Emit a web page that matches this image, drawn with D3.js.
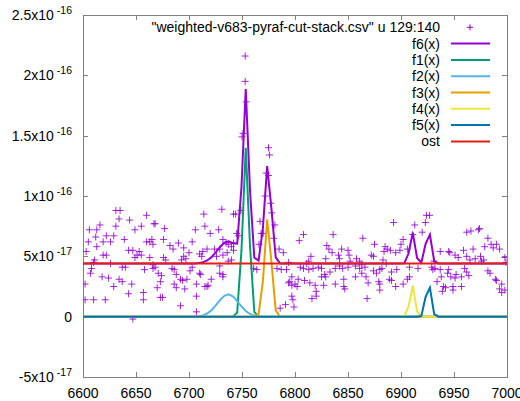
<!DOCTYPE html>
<html>
<head>
<meta charset="utf-8">
<script src="https://cdn.jsdelivr.net/npm/d3@7"></script>
<style>
  body { margin: 0; background: #fff; }
  text { font-family: "Liberation Sans", Arial, sans-serif; fill: #000; }
</style>
</head>
<body>
<div id="chart"></div>
<script>
// axis ticks
const xTicks = [6600, 6650, 6700, 6750, 6800, 6850, 6900, 6950, 7000];
const yTicks = [-5e-17, 0, 5e-17, 1e-16, 1.5e-16, 2e-16, 2.5e-16];

// fitted components (flux in units of 1e-17)
const ostLevel = 4.4;
const fitNames = ['f1(x)', 'f2(x)', 'f3(x)', 'f4(x)', 'f5(x)'];
const fitCenters = [6753.6, 6737.0, 6774.3, 6910.7, 6925.8];
const fitAmps = [14.0, 1.85, 8.2, 2.6, 2.9];
const fitSigmas = [3.0, 10.0, 3.2, 2.4, 2.4];

// measured points: [wavelength, flux / 1e-17]
const scatter = [
  [6631, 8.8], [6635, 8.8], [6660, 8.4], [6634, 8.1], [6644, 8.0], [6616, 7.6], [6667, 7.7], [6606, 7.2],
  [6613, 7.2], [6631, 7.5], [6655, 7.5], [6649, 7.2], [6622, 6.7], [6629, 6.7], [6612, 6.6], [6639, 6.4],
  [6605, 6.2], [6619, 6.2], [6626, 6.2], [6660, 6.2], [6663, 6.2], [6666, 6.0], [6613, 5.8], [6603, 5.4],
  [6643, 5.5], [6647, 5.5], [6653, 5.4], [6655, 5.1], [6619, 5.1], [6622, 5.1], [6651, 5.1], [6649, 4.9],
  [6663, 4.9], [6611, 4.7], [6610, 4.5], [6626, 4.4], [6637, 4.1], [6640, 4.1], [6608, 4.0], [6607, 3.6],
  [6666, 4.0], [6658, 3.9], [6618, 3.3], [6624, 3.2], [6634, 3.1], [6637, 2.9], [6646, 2.7], [6602, 2.7],
  [6629, 2.5], [6657, 2.0], [6643, 1.9], [6602, 1.4], [6610, 1.4], [6621, 1.4], [6657, 1.4], [6647, -0.2],
  [6714, 8.5], [6731, 8.9], [6677, 7.3], [6668, 7.7], [6706, 7.2], [6715, 7.5], [6720, 6.9], [6728, 7.2],
  [6676, 6.4], [6665, 6.4], [6690, 6.1], [6703, 6.2], [6682, 5.9], [6685, 5.6], [6695, 5.7], [6700, 5.3],
  [6713, 5.4], [6717, 5.6], [6724, 5.6], [6729, 5.6], [6710, 5.2], [6712, 5.0], [6676, 4.9], [6678, 4.7],
  [6695, 5.0], [6697, 4.8], [6693, 4.7], [6726, 5.0], [6666, 4.3], [6668, 4.1], [6684, 4.0], [6686, 3.9],
  [6703, 4.1], [6701, 3.8], [6729, 4.2], [6671, 3.6], [6674, 3.4], [6688, 3.5], [6692, 3.1], [6698, 3.1],
  [6694, 3.0], [6710, 3.6], [6711, 3.5], [6721, 3.1], [6729, 3.6], [6732, 3.3], [6673, 2.9], [6686, 2.7],
  [6707, 2.7], [6718, 2.6], [6670, 2.4], [6673, 1.6], [6675, 1.6], [6688, 2.4], [6696, 2.3], [6715, 2.5],
  [6717, 2.5], [6707, 1.7], [6692, 0.9], [6707, 0.4],
  [6753, 21.6], [6753, 19.5], [6754, 17.8], [6751, 15.2], [6750, 14.9], [6775, 14.0], [6776, 13.4], [6773, 11.9],
  [6775, 11.7], [6772, 10.0], [6777, 9.4], [6778, 8.6], [6767, 7.9], [6768, 6.9], [6766, 6.0], [6742, 8.5],
  [6744, 8.5], [6749, 8.8], [6745, 6.9], [6747, 6.7], [6732, 6.4], [6735, 6.1], [6737, 6.0], [6742, 6.1],
  [6732, 5.1], [6736, 5.3], [6740, 5.8], [6742, 5.5], [6737, 4.6], [6740, 4.7], [6732, 3.5], [6761, 4.0],
  [6764, 3.9], [6770, 6.9], [6781, 7.6], [6785, 5.6], [6789, 5.3], [6783, 4.0], [6787, 3.9], [6792, 3.9],
  [6794, 4.5], [6794, 2.8], [6797, 2.6], [6791, 1.0], [6786, 0.7], [6780, 6.5],
  [6804, 6.3], [6808, 6.8], [6836, 6.8], [6864, 6.5], [6830, 5.9], [6832, 5.6], [6835, 5.3], [6844, 5.6],
  [6850, 5.5], [6851, 5.1], [6815, 5.0], [6813, 4.6], [6811, 4.4], [6829, 4.8], [6841, 5.1], [6842, 4.8],
  [6852, 4.6], [6858, 4.8], [6861, 4.6], [6805, 4.1], [6808, 4.0], [6813, 3.9], [6817, 4.0], [6822, 4.1],
  [6825, 4.0], [6838, 4.0], [6842, 4.2], [6845, 4.0], [6850, 4.1], [6857, 4.2], [6861, 4.0], [6833, 3.7],
  [6828, 3.5], [6797, 3.3], [6803, 3.1], [6795, 2.9], [6825, 3.3], [6829, 3.3], [6809, 3.0], [6814, 2.8],
  [6800, 2.7], [6802, 2.5], [6846, 3.1], [6857, 3.3], [6863, 3.6], [6819, 2.6], [6827, 2.6], [6820, 2.1],
  [6838, 2.7], [6846, 2.5], [6847, 2.3], [6797, 1.7], [6798, 1.4], [6816, 1.5], [6820, 1.7], [6799, 0.8],
  [6893, 7.8], [6875, 6.0], [6885, 5.8], [6887, 5.6], [6884, 5.4], [6902, 6.4], [6900, 6.0], [6913, 7.6],
  [6911, 6.8], [6923, 7.8], [6924, 8.4], [6927, 8.4], [6920, 7.0], [6890, 5.5], [6895, 5.3], [6899, 5.5],
  [6906, 5.6], [6872, 5.1], [6874, 5.0], [6866, 4.1], [6863, 4.3], [6883, 4.7], [6886, 4.4], [6880, 3.9],
  [6874, 3.8], [6882, 4.0], [6877, 3.6], [6896, 3.9], [6891, 3.7], [6908, 4.1], [6916, 4.0], [6929, 4.1],
  [6867, 3.3], [6869, 2.8], [6879, 2.9], [6880, 2.7], [6889, 3.1], [6891, 3.0], [6906, 3.1], [6908, 3.3],
  [6902, 2.7], [6895, 2.5], [6880, 2.2], [6868, 1.5],
  [6962, 7.0], [6966, 7.1], [6974, 7.3], [6973, 7.2], [6982, 6.5], [6937, 5.4], [6945, 5.4], [6946, 5.3],
  [6959, 5.5], [6968, 5.6], [6979, 5.8], [6985, 6.0], [6990, 6.0], [6993, 5.6], [6987, 5.7], [6951, 5.1],
  [6954, 4.9], [6962, 5.0], [6965, 4.7], [6970, 4.8], [6975, 5.0], [6976, 4.6], [6978, 4.7], [6998, 4.9],
  [6999, 4.5], [6932, 4.0], [6930, 3.9], [6937, 3.9], [6945, 3.9], [6944, 3.6], [6952, 3.5], [6960, 4.0],
  [6962, 3.7], [6947, 3.3], [6951, 3.2], [6957, 3.3], [6964, 3.4], [6982, 3.8], [6984, 3.6], [6989, 3.1],
  [6990, 3.0], [6995, 2.7], [6940, 2.5], [6942, 2.4], [6939, 2.1], [6949, 2.5], [6949, 2.2], [6957, 2.5],
  [6993, 2.3], [6995, 2.0], [6998, 2.2], [6934, 2.9], [6938, 3.3], [6931, 4.6]
];

const legendTitle = '"weighted-v683-pyraf-cut-stack.csv" u 129:140';
const purple = '#9400d3';
const fitColors = ['#009e73', '#56b4e9', '#e69f00', '#f0e442', '#0072b2'];
const ostColor = '#e51e10';
const borderColor = '#808080';

const width = 520, height = 401;
const margin = { left: 83, right: 13, top: 15, bottom: 24 };

const svg = d3.select('#chart')
    .append('svg')
    .attr('width', width)
    .attr('height', height);

const x = d3.scaleLinear()
    .domain([6600, 7000])
    .range([margin.left, width - margin.right]);
const y = d3.scaleLinear()
    .domain([-5e-17, 2.5e-16])
    .range([height - margin.bottom, margin.top]);

svg.append('defs').append('clipPath')
    .attr('id', 'plot-clip')
    .append('rect')
    .attr('x', x.range()[0])
    .attr('y', y.range()[1])
    .attr('width', x.range()[1] - x.range()[0])
    .attr('height', y.range()[0] - y.range()[1]);

// mirrored inward ticks on all four sides
const tickLen = 5;
const ticks = svg.append('g')
    .attr('stroke', borderColor)
    .attr('stroke-width', 1)
    .attr('shape-rendering', 'crispEdges');
xTicks.forEach(t => {
    const px = Math.round(x(t)) + 0.5;
    ticks.append('line').attr('x1', px).attr('x2', px).attr('y1', y.range()[0]).attr('y2', y.range()[0] - tickLen);
    ticks.append('line').attr('x1', px).attr('x2', px).attr('y1', y.range()[1]).attr('y2', y.range()[1] + tickLen);
});
yTicks.forEach(t => {
    const py = Math.round(y(t)) + 0.5;
    ticks.append('line').attr('x1', x.range()[0]).attr('x2', x.range()[0] + tickLen).attr('y1', py).attr('y2', py);
    ticks.append('line').attr('x1', x.range()[1]).attr('x2', x.range()[1] - tickLen).attr('y1', py).attr('y2', py);
});

svg.append('g')
    .selectAll('text')
    .data(xTicks)
    .join('text')
    .attr('x', d => x(d))
    .attr('y', height - 3)
    .attr('text-anchor', 'middle')
    .attr('font-size', '14px')
    .text(d => d);

// gnuplot style "5x10^{-17}" labels
function splitSci(v) {
    if (v === 0) return ['0', ''];
    const e = Math.floor(Math.log10(Math.abs(v)) + 1e-9);
    const m = +(v / Math.pow(10, e)).toFixed(2);
    return [m + 'x10', String(e)];
}

const yLabels = svg.append('g')
    .selectAll('text')
    .data(yTicks)
    .join('text')
    .attr('x', 72)
    .attr('y', d => y(d) + 5)
    .attr('text-anchor', 'end')
    .attr('font-size', '14px');
yLabels.append('tspan').text(d => splitSci(d)[0]);
yLabels.filter(d => d !== 0).append('tspan')
    .attr('dx', 3)
    .attr('dy', -6)
    .attr('font-size', '10.5px')
    .text(d => splitSci(d)[1]);

svg.append('rect')
    .attr('x', x.range()[0] + 0.5)
    .attr('y', y.range()[1] + 0.5)
    .attr('width', x.range()[1] - x.range()[0])
    .attr('height', y.range()[0] - y.range()[1])
    .attr('fill', 'none')
    .attr('stroke', borderColor)
    .attr('shape-rendering', 'crispEdges');

const plot = svg.append('g').attr('clip-path', 'url(#plot-clip)');

function cross(sel, s) {
    return sel.attr('d', d => `M${-s},0H${s}M0,${-s}V${s}`);
}

plot.append('g')
    .attr('fill', 'none')
    .attr('stroke', purple)
    .attr('stroke-width', 1)
    .attr('stroke-opacity', 0.85)
    .selectAll('path')
    .data(scatter)
    .join('path')
    .attr('transform', d => `translate(${x(d[0])},${y(d[1] * 1e-17)})`)
    .call(cross, 3.5);

// gnuplot samples functions at 100 points across the x range
const nSamples = 100;
const sampleX = d3.range(nSamples).map(i => 6600 + i * 400 / (nSamples - 1));
const gauss = (xv, i) => fitAmps[i] * Math.exp(-Math.pow(xv - fitCenters[i], 2) / (2 * fitSigmas[i] * fitSigmas[i]));
const f6 = xv => ostLevel + fitNames.reduce((s, _, i) => s + gauss(xv, i), 0);

const line = d3.line()
    .x(d => x(d[0]))
    .y(d => y(d[1] * 1e-17));

plot.append('path')
    .datum(sampleX.map(xv => [xv, f6(xv)]))
    .attr('d', line)
    .attr('fill', 'none')
    .attr('stroke', purple)
    .attr('stroke-width', 2);

fitNames.forEach((name, i) => {
    plot.append('path')
        .datum(sampleX.map(xv => [xv, gauss(xv, i)]))
        .attr('d', line)
        .attr('fill', 'none')
        .attr('stroke', fitColors[i])
        .attr('stroke-width', 2);
});

plot.append('path')
    .datum(sampleX.map(xv => [xv, ostLevel]))
    .attr('d', line)
    .attr('fill', 'none')
    .attr('stroke', ostColor)
    .attr('stroke-width', 2);

// legend
const legendRows = [
    { label: legendTitle, color: purple, point: true },
    { label: 'f6(x)', color: purple },
    ...fitNames.map((n, i) => ({ label: n, color: fitColors[i] })),
    { label: 'ost', color: ostColor }
];
const legend = svg.append('g')
    .selectAll('g')
    .data(legendRows)
    .join('g')
    .attr('transform', (d, i) => `translate(0,${27.3 + i * 16.3})`);
legend.append('text')
    .attr('x', 440)
    .attr('y', 5)
    .attr('text-anchor', 'end')
    .attr('font-size', '14px')
    .text(d => d.label);
legend.filter(d => !d.point).append('line')
    .attr('x1', 451).attr('x2', 490)
    .attr('stroke', d => d.color)
    .attr('stroke-width', 2);
legend.filter(d => d.point).append('path')
    .attr('transform', 'translate(470,0)')
    .attr('fill', 'none')
    .attr('stroke', purple)
    .call(cross, 3);
</script>
</body>
</html>
